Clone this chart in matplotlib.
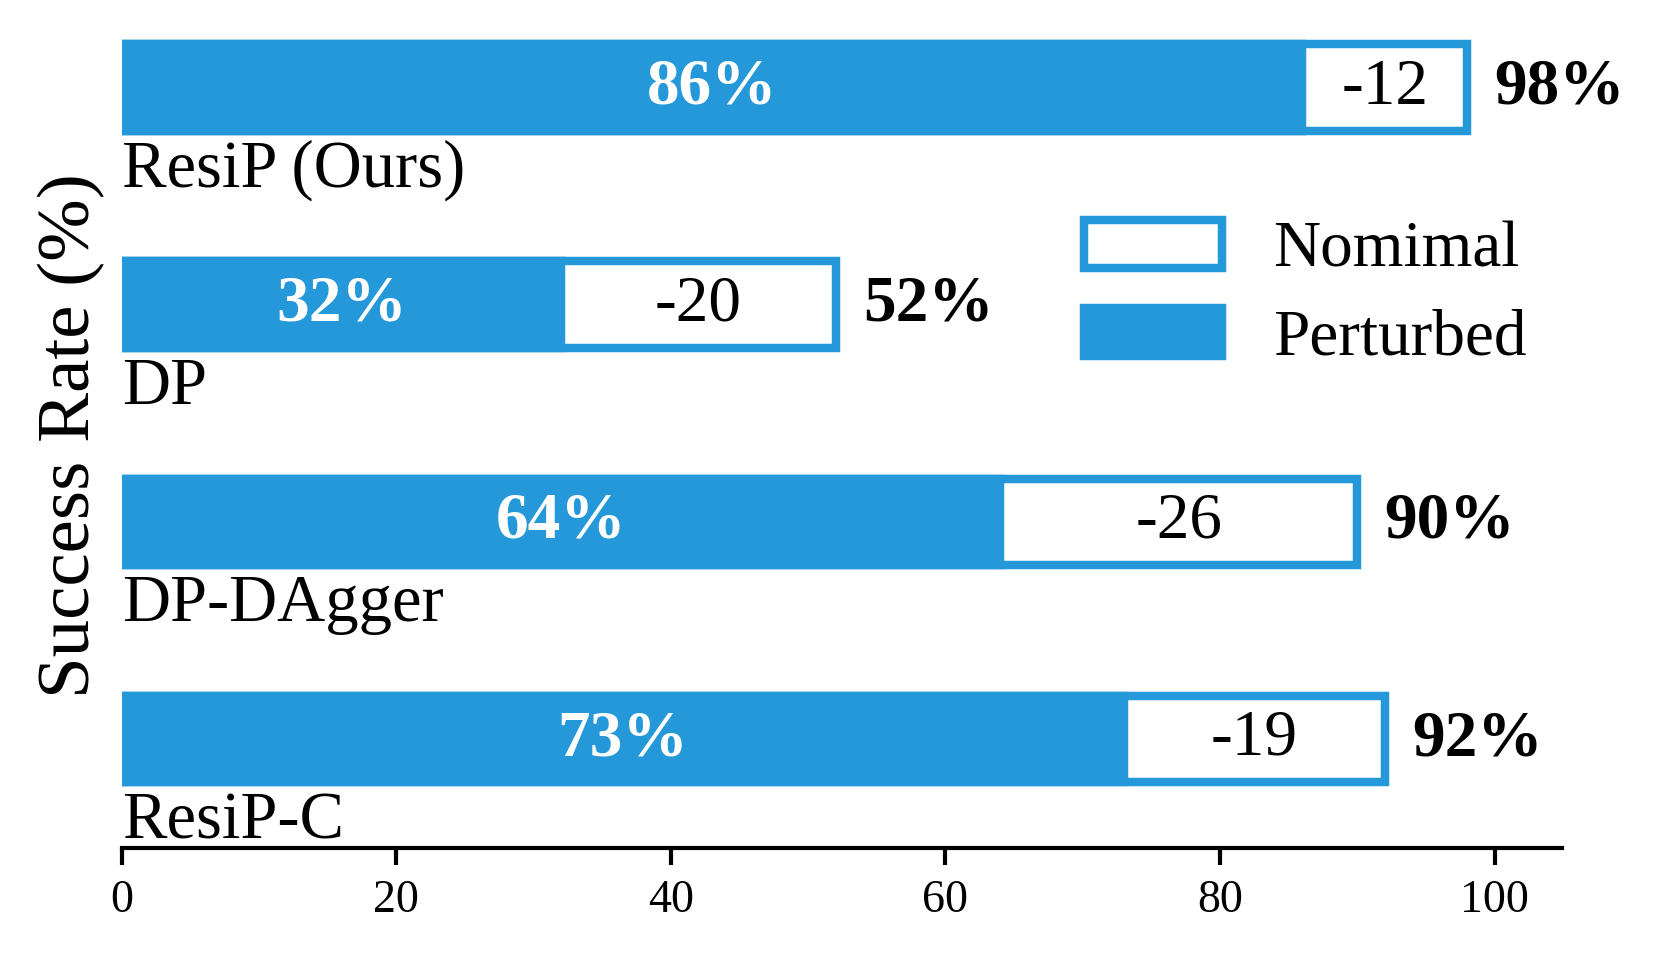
import matplotlib.pyplot as plt
import numpy as np

plt.rcParams['font.family'] = ['Liberation Serif', 'DejaVu Serif']

methods = ['ResiP (Ours)', 'DP', 'DP-DAgger', 'ResiP-C']
nominal = [98, 52, 90, 92]
perturbed = [86, 32, 64, 73]

blue = '#2598DA'
ypos = np.arange(len(methods))[::-1]

fig = plt.figure(figsize=(16.59, 9.59), dpi=100)
ax = fig.add_axes([0.0734, 0.1162, 0.868, 0.8601])

ax.barh(ypos, nominal, height=0.4, color='white', edgecolor=blue, linewidth=6.1, label='Nomimal')
ax.barh(ypos, perturbed, height=0.4, color=blue, edgecolor=blue, linewidth=6.1, label='Perturbed')

for y, name, n, p in zip(ypos, methods, nominal, perturbed):
    ax.text(p / 2, y, f'{p}%', color='white', fontsize=47, fontweight='bold',
            ha='center', va='center')
    ax.text((p + n) / 2, y, f'-{n - p}', color='black', fontsize=47,
            ha='center', va='center')
    ax.text(n + 2, y, f'{n}%', color='black', fontsize=47, fontweight='bold',
            ha='left', va='center')
    ax.text(0, y - 0.38, name, color='black', fontsize=48, ha='left', va='center')

ax.set_xlim(0, 104.9)
ax.set_ylim(-0.5, 3.3)
ax.set_xticks([0, 20, 40, 60, 80, 100])
ax.set_yticks([])
ax.tick_params(axis='x', labelsize=33, width=3, length=12, pad=11)
for s in ['top', 'right', 'left']:
    ax.spines[s].set_visible(False)
ax.spines['bottom'].set_linewidth(3)
ax.set_ylabel('Success Rate (%)', fontsize=54, labelpad=12)

ax.legend(loc='upper left', bbox_to_anchor=(1084 / 1659, 1 - 220 / 959),
          bbox_transform=fig.transFigure, frameon=False, fontsize=47,
          borderpad=0, borderaxespad=0, handlelength=2.11, handleheight=0.75,
          handletextpad=0.78, labelspacing=0.42)

fig.savefig('out.png', dpi=100)
